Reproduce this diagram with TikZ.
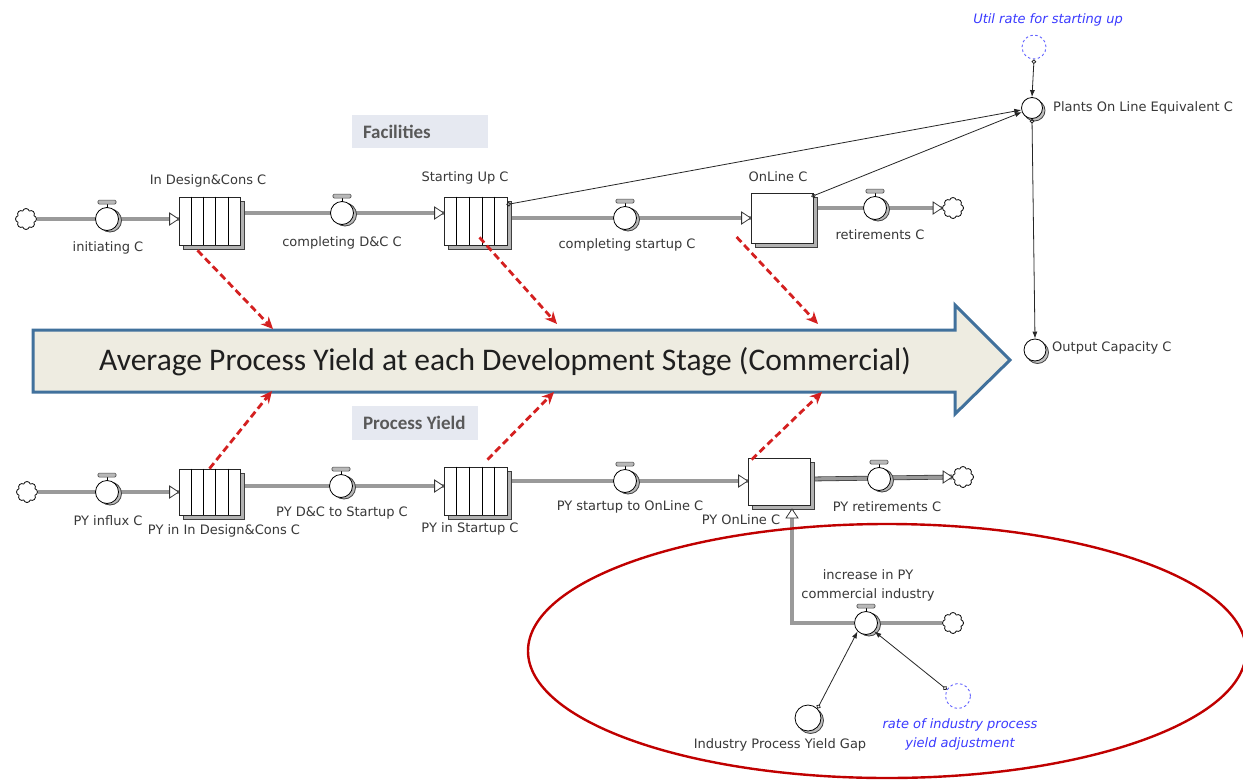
\documentclass[tikz,border=0pt]{standalone}
\usepackage{fontspec}
\newfontfamily\vfont{DejaVu Sans}
\newfontfamily\calfont{Carlito}
\usetikzlibrary{arrows.meta,calc,shapes.symbols,shadows,backgrounds}
\definecolor{arrowfill}{HTML}{EEECE1}
\definecolor{arrowedge}{HTML}{41719C}
\definecolor{tagfill}{HTML}{E6E9F1}
\definecolor{tagtext}{HTML}{595959}
\definecolor{loopred}{HTML}{C00000}
\definecolor{dashred}{HTML}{D42020}
\definecolor{auxblue}{HTML}{3B3BFF}
\definecolor{pipegray}{HTML}{9A9A9A}
\tikzset{
  lbl/.style={font=\vfont\fontsize{13}{19}\selectfont, text=black!78, inner sep=0pt, align=center},
  bluelbl/.style={lbl, text=auxblue, font=\vfont\itshape\fontsize{13}{19}\selectfont},
  valve/.style={circle, draw=black, fill=white, minimum size=23pt, inner sep=0pt, line width=0.8pt,
    general shadow={fill=gray!55, draw=black!75, shadow xshift=3pt, shadow yshift=-1.5pt}},
  stockbox/.style={draw=black!85, fill=white, inner sep=0pt, line width=0.8pt,
    general shadow={fill=gray!60, draw=black!75, shadow xshift=4pt, shadow yshift=-4pt}},
  auxvar/.style={circle, draw=black, fill=white, inner sep=0pt, line width=0.8pt,
    general shadow={fill=gray!50, draw=black!75, shadow xshift=2.5pt, shadow yshift=-2.5pt}},
  constaux/.style={circle, draw=auxblue!80, dash pattern=on 2.5pt off 2.5pt, line width=0.9pt,
    inner sep=0pt, minimum size=24pt},
  srcsink/.style={cloud, cloud puffs=8, aspect=1, draw=black, fill=white, line width=0.8pt,
    minimum size=21pt, inner sep=0pt},
  pipe/.style={draw=black!75, line width=0.8pt, double=pipegray, double distance=3.2pt},
  conn/.style={draw=black!85, line width=0.8pt,
    {Circle[open,length=4.5pt,width=4.5pt]}-{Latex[length=7pt,width=5pt]}},
  infl/.style={draw=dashred, line width=2.8pt, dash pattern=on 7pt off 4pt,
    -{Stealth[length=12pt,width=11pt]}},
  tag/.style={fill=tagfill, inner sep=0pt, text=tagtext,
    font=\calfont\bfseries\fontsize{19}{22}\selectfont},
  flowtip/.pic={\draw[fill=white, draw=black!80, line width=0.8pt]
    (-9,-6) -- (0,0) -- (-9,6) -- cycle;}
}
\begin{document}
\begin{tikzpicture}[x=1pt,y=-1pt]
\useasboundingbox (0,0) rectangle (1243,782);
\begin{scope}[on background layer]
  \fill[white] (0,0) rectangle (1243,782);
\end{scope}

% ---------- group tags ----------
\node[tag, minimum width=136pt, minimum height=33pt] (tagF) at (420,131.5) {};
\node[tag, anchor=west] at ($(tagF.west)+(11,0)$) {Facilities};
\node[tag, minimum width=126pt, minimum height=34pt] (tagP) at (415,423) {};
\node[tag, anchor=west] at ($(tagP.west)+(11,0)$) {Process Yield};

% ---------- facilities chain ----------
\node[srcsink] (cA) at (26,219) {};
\node[valve] (vInit) at (107,219) {};
\node[stockbox, minimum width=61pt, minimum height=48pt] (idc) at (209.5,221) {};
\node[valve] (vDC) at (342,213) {};
\node[stockbox, minimum width=63pt, minimum height=48pt] (su) at (475.5,221) {};
\node[valve] (vSU) at (625,218) {};
\node[stockbox, minimum width=62pt, minimum height=50pt] (on) at (782,218) {};
\node[valve] (vRet) at (875,208) {};
\node[srcsink] (cB) at (953,208) {};

\node[lbl] at (208,181) {In Design\&Cons C};
\node[lbl] at (108,248) {initiating C};
\node[lbl] at (342,243) {completing D\&C C};
\node[lbl] at (465,178) {Starting Up C};
\node[lbl] at (627,245) {completing startup C};
\node[lbl] at (778,177) {OnLine C};
\node[lbl] at (880,235) {retirements C};

% ---------- capacity variables ----------
\node[constaux] (util) at (1034,47) {};
\node[bluelbl] at (1048,20) {Util rate for starting up};
\node[auxvar, minimum size=21pt] (plants) at (1032,108) {};
\node[lbl, anchor=west] at (1053,108) {Plants On Line Equivalent C};
\node[auxvar, minimum size=22pt] (output) at (1035,350) {};
\node[lbl, anchor=west] at (1052,348) {Output Capacity C};

% ---------- process yield chain ----------
\node[srcsink] (cC) at (27,492) {};
\node[valve] (vPin) at (107,492) {};
\node[stockbox, minimum width=61pt, minimum height=46pt] (pidc) at (209.5,492) {};
\node[valve] (vPdc) at (341,486) {};
\node[stockbox, minimum width=63pt, minimum height=48pt] (psu) at (475.5,491) {};
\node[valve] (vPsu) at (625,481) {};
\node[stockbox, minimum width=62pt, minimum height=47pt] (pon) at (779,481.5) {};
\node[valve] (vPret) at (879,479) {};
\node[srcsink] (cD) at (963,477) {};
\node[valve] (vInc) at (866,623) {};
\node[srcsink] (cE) at (953,623) {};
\coordinate (inTip) at (792,509);

\node[lbl] at (108,521) {PY influx C};
\node[lbl] at (224,531) {PY in In Design\&Cons C};
\node[lbl] at (342,513) {PY D\&C to Startup C};
\node[lbl] at (470,529) {PY in Startup C};
\node[lbl, fill=white, inner sep=1pt] at (630,507) {PY startup to OnLine C};
\node[lbl] at (741,520) {PY OnLine C};
\node[lbl] at (887,507) {PY retirements C};
\node[lbl] at (868,585) {increase in PY\\commercial industry};

\node[auxvar, minimum size=26pt] (gap) at (808,718) {};
\node[lbl] at (780,745) {Industry Process Yield Gap};
\node[constaux, minimum size=25pt] (rate) at (958,696) {};
\node[bluelbl] at (960,734) {rate of industry process\\yield adjustment};

% conveyor slats
\foreach \s in {idc,su,pidc,psu}
  \foreach \k in {1,...,4}
    \draw[line width=0.7pt] ($(\s.north west)!\k/5!(\s.north east)$) -- ($(\s.south west)!\k/5!(\s.south east)$);

% valve handles
\foreach \v in {vInit,vDC,vSU,vRet,vPin,vPdc,vPsu,vPret,vInc} {
  \draw[line width=0.8pt] (\v.north) -- ++(0,-3);
  \draw[fill=gray!55, draw=black!70, line width=0.6pt, rounded corners=1.2pt]
    ($(\v.north)+(-9,-3)$) rectangle ($(\v.north)+(9,-7)$);
}

% ---------- flow pipes ----------
\begin{scope}[on background layer]
  \draw[pipe] (cA.east) -- (idc.west |- cA);
  \draw[pipe] (idc.east |- vDC) -- (su.west |- vDC);
  \draw[pipe] (su.east |- vSU) -- (on.west |- vSU);
  \draw[pipe] (on.east |- vRet) -- (cB.west);
  \draw[pipe] (cC.east) -- (pidc.west |- cC);
  \draw[pipe] (pidc.east |- vPdc) -- (psu.west |- vPdc);
  \draw[pipe] (psu.east |- vPsu) -- (pon.west |- vPsu);
  \draw[pipe] (pon.east |- vPret) -- (cD.west);
  \draw[pipe] (cE.west) -- (vInc) -- (vInc -| inTip) -- (inTip);
\end{scope}
\pic at (idc.west |- cA) {flowtip};
\pic at (su.west |- vDC) {flowtip};
\pic at (on.west |- vSU) {flowtip};
\pic at (cB.west) {flowtip};
\pic at (pidc.west |- cC) {flowtip};
\pic at (psu.west |- vPdc) {flowtip};
\pic at (pon.west |- vPsu) {flowtip};
\pic at (cD.west) {flowtip};
\pic[rotate=90] at (inTip) {flowtip};

% ---------- information links ----------
\draw[conn] ($(su.north east)+(-1,8)$) -- (plants);
\draw[conn] ($(on.north east)+(-2,4)$) -- (plants);
\draw[conn] (util.south) -- (plants.north);
\draw[conn] (plants.south) -- (output.north);
\draw[conn] (gap.north east) -- (vInc.-135);
\draw[conn] (rate.150) -- (vInc.-45);

% ---------- stage arrow ----------
\draw[fill=arrowfill, draw=arrowedge, line width=3pt, line join=miter]
  (33,330) -- (955,330) -- (955,305) -- (1010,360) -- (955,414) -- (955,392) -- (33,392) -- cycle;
\node[font=\calfont\fontsize{31.5}{36}\selectfont, text=black!88] (avg) at (505,362)
  {Average Process Yield at each Development Stage (Commercial)};
\coordinate (t1) at (273,329);
\coordinate (t2) at (557,324);
\coordinate (t3) at (818,324);
\coordinate (b1) at (272,391);
\coordinate (b2) at (554,392);
\coordinate (b3) at (822,392);
\draw[infl] ($(idc.south)+(-12,5)$) -- (t1);
\draw[infl] ($(su.south)+(4,-8)$) -- (t2);
\draw[infl] ($(on.west)+(-14,19)$) -- (t3);
\draw[infl] (pidc.north) -- (b1);
\draw[infl] ($(psu.north)+(12,-7)$) -- (b2);
\draw[infl] ($(pon.north west)+(4,2)$) -- (b3);

% ---------- highlighted loop ----------
\draw[loopred, line width=2.4pt] (887,651) ellipse [x radius=359pt, y radius=127pt];
\end{tikzpicture}
\end{document}
